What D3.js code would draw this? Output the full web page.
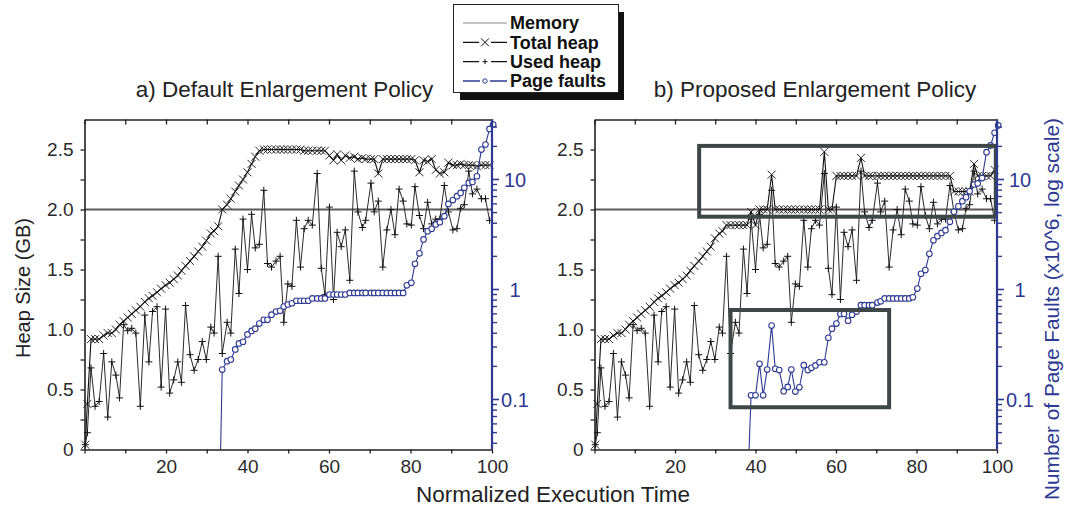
<!DOCTYPE html>
<html><head><meta charset="utf-8">
<script src="https://cdn.jsdelivr.net/npm/d3@7"></script>
<style>body{margin:0;background:#fff}svg{display:block}text{font-family:"Liberation Sans",Arial,sans-serif}</style>
</head><body><svg id="c" width="1065" height="507"></svg>
<script>
// ---------- data ----------
const timeSamples = [0.2,0.7,1.6,2.6,3.6,4.7,5.7,6.7,7.7,8.6,
 9.6,10.6,11.6,12.6,13.7,14.8,15.8,16.7,17.8,18.8,
 19.9,20.9,21.9,22.9,23.8,24.8,25.9,26.9,27.9,28.9,
 29.9,31.0,31.8,32.8,33.8,35.0,35.9,37.0,37.9,38.9,
 40.0,41.0,41.9,42.9,44.0,44.9,45.9,47.0,48.0,48.9,
 49.9,50.9,52.0,53.0,53.9,54.9,55.9,57.1,58.1,59.0,
 60.1,61.1,62.0,63.0,64.0,65.1,66.2,67.1,68.2,69.0,
 70.3,71.1,72.1,73.2,74.2,75.2,76.2,77.2,78.2,79.1,
 80.2,81.1,82.2,83.2,84.2,85.2,86.2,87.2,88.3,89.3,
 90.4,91.4,92.3,93.2,94.3,95.2,96.3,97.4,98.4,99.4,100.3];

const usedHeap = [0.04,0.14,0.68,0.36,0.40,0.80,0.27,0.73,0.62,0.43,
 1.04,0.99,1.01,0.97,0.36,1.12,0.73,1.15,1.19,0.52,
 1.17,0.47,0.58,0.73,0.56,1.20,0.79,0.66,0.75,0.90,
 0.75,1.02,0.97,1.61,0.80,1.06,0.97,1.67,1.30,1.92,
 1.50,1.96,1.68,1.71,2.16,1.55,1.52,1.57,1.61,1.06,
 1.38,1.36,1.91,1.52,1.84,1.91,1.87,2.30,1.51,1.29,
 2.02,1.25,1.81,1.69,1.83,1.41,2.32,1.98,1.85,1.91,
 2.22,1.98,2.07,1.52,1.83,2.00,1.79,2.17,2.07,1.88,
 1.87,2.19,1.95,1.84,2.06,1.88,1.92,1.92,2.20,1.98,
 1.83,1.84,2.01,2.04,2.32,2.13,2.17,2.09,2.09,1.91];

const totalHeapA = [0.04,0.38,0.92,0.92,0.92,0.95,0.97,0.97,1.00,1.04,
 1.07,1.10,1.13,1.16,1.19,1.23,1.26,1.28,1.31,1.34,
 1.37,1.39,1.42,1.45,1.49,1.53,1.57,1.61,1.65,1.69,
 1.74,1.80,1.82,1.86,2.00,2.04,2.09,2.15,2.20,2.25,
 2.31,2.38,2.44,2.49,2.50,2.50,2.50,2.50,2.50,2.50,
 2.50,2.50,2.50,2.50,2.49,2.49,2.49,2.49,2.49,2.49,
 2.45,2.41,2.46,2.41,2.45,2.43,2.44,2.42,2.43,2.42,
 2.42,2.42,2.30,2.42,2.42,2.42,2.42,2.42,2.42,2.42,
 2.42,2.41,2.31,2.41,2.40,2.42,2.33,2.30,2.31,2.39,
 2.37,2.37,2.38,2.37,2.37,2.37,2.36,2.37,2.37,2.37];

const totalHeapB = [0.04,0.38,0.92,0.92,0.92,0.95,0.97,0.97,1.00,1.04,
 1.07,1.10,1.13,1.16,1.19,1.23,1.26,1.28,1.31,1.34,
 1.37,1.39,1.42,1.45,1.49,1.53,1.57,1.61,1.65,1.69,
 1.76,1.80,1.82,1.87,1.87,1.87,1.87,1.87,1.87,1.98,
 1.87,2.00,2.00,2.00,2.29,2.00,2.00,2.00,2.00,2.00,
 2.00,2.00,2.00,2.00,2.00,2.00,2.00,2.48,2.00,2.00,
 2.28,2.28,2.28,2.28,2.28,2.28,2.43,2.28,2.28,2.28,
 2.28,2.28,2.28,2.28,2.28,2.28,2.28,2.28,2.28,2.28,
 2.28,2.28,2.28,2.28,2.28,2.28,2.28,2.28,2.28,2.15,
 2.15,2.15,2.15,2.15,2.38,2.28,2.28,2.28,2.28,2.33];

const memoryLimit = 2.0;

const faultStartA = 34, faultZeroTimeA = 33.4;
const pageFaultsA = [0.187,0.223,0.231,0.285,0.323,0.335,0.39,0.42,0.44,0.49,
 0.53,0.53,0.59,0.63,0.64,0.70,0.73,0.75,0.79,0.79,
 0.79,0.79,0.83,0.83,0.83,0.83,0.90,0.90,0.90,0.90,
 0.90,0.93,0.93,0.93,0.93,0.93,0.93,0.93,0.93,0.93,
 0.93,0.93,0.93,0.93,0.93,1.09,1.15,1.71,2.13,2.85,
 3.39,3.56,3.9,4.09,4.64,6.0,6.5,7.05,7.55,8.4,
 9.3,9.5,10.7,18.7,20.8,28.8,31.6];

const faultStartB = 39, faultZeroTimeB = 38.4;
const pageFaultsB = [0.109,0.109,0.211,0.109,0.187,0.47,0.19,0.185,0.119,0.13,
 0.187,0.118,0.129,0.205,0.185,0.194,0.204,0.218,0.218,0.364,
 0.44,0.49,0.60,0.60,0.52,0.59,0.63,0.72,0.72,0.72,
 0.72,0.76,0.78,0.83,0.83,0.83,0.83,0.83,0.83,0.83,
 0.85,1.02,1.39,1.50,2.11,2.8,3.05,3.27,3.46,4.12,
 5.08,5.7,6.35,6.9,7.8,9.0,9.2,10.3,17.7,20.4,
 26.6,31.0];

const xTicks = [0,10,20,30,40,50,60,70,80,90,100];
const xTickLabels = ["","","20","","40","","60","","80","","100"];
const heapTicks = [0,0.25,0.5,0.75,1.0,1.25,1.5,1.75,2.0,2.25,2.5];
const heapTickLabels = ["0","","0.5","","1.0","","1.5","","2.0","","2.5"];
const faultMajor = [0.1,1,10];
const faultMajorLabels = ["0.1","1","10"];
const faultMinor = [0.04,0.05,0.06,0.07,0.08,0.09,0.2,0.3,0.4,0.5,0.6,0.7,0.8,0.9,2,3,4,5,6,7,8,9,20,30];

const panelTitles = ["a) Default Enlargement Policy","b) Proposed Enlargement Policy"];
const legendLabels = ["Memory","Total heap","Used heap","Page faults"];
const highlightBoxes = [
  {t0:26.0,t1:99.7,scale:"heap",v0:1.94,v1:2.53},
  {t0:33.8,t1:73.2,scale:"fault",v0:0.085,v1:0.651}
];

// ---------- drawing ----------
const svg = d3.select("#c");
const INK = "#231f20", BLUE = "#2e3a92", GREY = "#5a5a5a";
const yTop = 119.5, yBot = 449.5;
const heapY = d3.scaleLinear().domain([0,2.75]).range([yBot,yTop]);
const faultY = d3.scaleLog().domain([0.0351,35.1]).range([yBot,yTop]);

const crossPath = "M-4,-4L4,4M-4,4L4,-4";
const plusPath = "M-3.5,0L3.5,0M0,-3.5L0,3.5";

function drawPanel(idx, x0, x1, totalHeap, faults, fStart, fZero, boxes, titleX){
  const x = d3.scaleLinear().domain([0,100]).range([x0,x1]);
  const g = svg.append("g");

  g.append("line").attr("x1",x(0)).attr("x2",x(100))
    .attr("y1",heapY(memoryLimit)).attr("y2",heapY(memoryLimit))
    .attr("stroke",GREY).attr("stroke-width",1.8);

  const tot = totalHeap.map((v,i)=>[timeSamples[i],v]);
  g.append("path").datum(tot)
    .attr("d",d3.line().x(d=>x(d[0])).y(d=>heapY(d[1])))
    .attr("fill","none").attr("stroke","#111").attr("stroke-width",1.1);
  g.selectAll(".tm").data(tot).join("path")
    .attr("transform",d=>`translate(${x(d[0])},${heapY(d[1])})`)
    .attr("d",crossPath).attr("stroke","#111").attr("stroke-width",0.9).attr("fill","none");

  const used = usedHeap.map((v,i)=>[timeSamples[i],v]);
  g.append("path").datum(used)
    .attr("d",d3.line().x(d=>x(d[0])).y(d=>heapY(d[1])))
    .attr("fill","none").attr("stroke","#2a2a2a").attr("stroke-width",1);
  g.selectAll(".um").data(used).join("path")
    .attr("transform",d=>`translate(${x(d[0])},${heapY(d[1])})`)
    .attr("d",plusPath).attr("stroke","#111").attr("stroke-width",1).attr("fill","none");

  const pf = [[fZero,0]].concat(faults.map((v,i)=>[timeSamples[fStart+i],v]));
  const fy = v => v>0 ? faultY(v) : yBot;
  g.append("path").datum(pf)
    .attr("d",d3.line().x(d=>x(d[0])).y(d=>fy(d[1])))
    .attr("fill","none").attr("stroke",BLUE).attr("stroke-width",1.1);
  g.selectAll(".pm").data(pf.slice(1)).join("circle")
    .attr("cx",d=>x(d[0])).attr("cy",d=>fy(d[1])).attr("r",2.8)
    .attr("fill","#fff").attr("stroke",BLUE).attr("stroke-width",1.1);

  boxes.forEach(b=>{
    const s = b.scale==="heap" ? heapY : faultY;
    g.append("rect").attr("x",x(b.t0)).attr("y",s(b.v1))
      .attr("width",x(b.t1)-x(b.t0)).attr("height",s(b.v0)-s(b.v1))
      .attr("fill","none").attr("stroke","#3d4747").attr("stroke-width",4);
  });

  const ax = svg.append("g");
  ax.append("g").attr("transform",`translate(0,${yBot})`)
    .call(d3.axisBottom(x).tickValues(xTicks).tickSize(4).tickSizeOuter(0).tickPadding(6)
      .tickFormat((d,i)=>xTickLabels[i]));
  ax.append("g").attr("transform",`translate(0,${yTop})`)
    .call(d3.axisTop(x).tickValues(xTicks).tickSize(-5).tickSizeOuter(0).tickFormat(""));
  ax.append("g").attr("transform",`translate(${x0},0)`)
    .call(d3.axisLeft(heapY).tickValues(heapTicks).tickSize(4).tickSizeOuter(0).tickPadding(7)
      .tickFormat((d,i)=>heapTickLabels[i]));
  ax.selectAll("path.domain").attr("stroke",INK).attr("stroke-width",1.6);
  ax.selectAll(".tick line").attr("stroke",INK).attr("stroke-width",1.3);
  ax.selectAll("text").attr("fill","#2b2b2b").attr("font-family",'"Liberation Sans",Arial,sans-serif').attr("font-size",19);

  const rg = svg.append("g").attr("transform",`translate(${x1},0)`);
  rg.append("line").attr("x1",0).attr("x2",0).attr("y1",yTop).attr("y2",yBot)
    .attr("stroke",BLUE).attr("stroke-width",2.2);
  rg.selectAll(".mn").data(faultMinor).join("line")
    .attr("x1",0).attr("x2",5).attr("y1",d=>faultY(d)).attr("y2",d=>faultY(d))
    .attr("stroke",BLUE).attr("stroke-width",1.4);
  rg.selectAll(".mj").data(faultMajor).join("line")
    .attr("x1",0).attr("x2",7).attr("y1",d=>faultY(d)).attr("y2",d=>faultY(d))
    .attr("stroke",BLUE).attr("stroke-width",1.6);
  rg.selectAll(".ml").data(faultMajor).join("text")
    .attr("x",23).attr("y",d=>faultY(d)).attr("dy","0.36em").attr("text-anchor","middle")
    .attr("fill",BLUE).attr("font-size",20).text((d,i)=>faultMajorLabels[i]);

  svg.append("text").attr("x",titleX).attr("y",97).attr("text-anchor","middle")
    .attr("font-size",22.5).attr("fill","#222").text(panelTitles[idx]);
}

drawPanel(0, 84.5, 492, totalHeapA, pageFaultsA, faultStartA, faultZeroTimeA, [], 284.5);
drawPanel(1, 594.5, 997, totalHeapB, pageFaultsB, faultStartB, faultZeroTimeB, highlightBoxes, 815);

svg.append("text").attr("transform","translate(30,288) rotate(-90)").attr("text-anchor","middle")
  .attr("font-size",20).attr("fill","#222").text("Heap Size (GB)");
svg.append("text").attr("x",553).attr("y",502).attr("text-anchor","middle")
  .attr("font-size",22.5).attr("fill","#222").text("Normalized Execution Time");
svg.append("text").attr("transform","translate(1059,309) rotate(-90)").attr("text-anchor","middle")
  .attr("font-size",20.8).attr("fill",BLUE).text("Number of Page Faults (x10^6, log scale)");

const lg = svg.append("g");
lg.append("rect").attr("x",460).attr("y",12).attr("width",164).attr("height",88).attr("fill","#111");
lg.append("rect").attr("x",453.5).attr("y",4.5).attr("width",165).attr("height",88)
  .attr("fill","#fff").attr("stroke","#222").attr("stroke-width",1);
const rowY = d3.scalePoint().domain(legendLabels).range([23,81]);
legendLabels.forEach((lab,i)=>{
  const y = rowY(lab);
  const col = i===0 ? "#8a8a8a" : (i===3 ? BLUE : "#111");
  lg.append("line").attr("x1",463).attr("x2",507).attr("y1",y).attr("y2",y)
    .attr("stroke",col).attr("stroke-width",i===0?1.2:1.3);
  if(i===1||i===2){
    lg.append("rect").attr("x",479).attr("y",y-5).attr("width",12).attr("height",10).attr("fill","#fff");
    lg.append("path").attr("transform",`translate(485,${y})`)
      .attr("d", i===1 ? crossPath : "M-2.5,0L2.5,0M0,-2.5L0,2.5")
      .attr("stroke","#111").attr("stroke-width",1).attr("fill","none");
  }
  if(i===3){
    lg.append("rect").attr("x",480).attr("y",y-4).attr("width",10).attr("height",8).attr("fill","#fff");
    lg.append("circle").attr("cx",485).attr("cy",y).attr("r",2.2).attr("fill","#fff")
      .attr("stroke",BLUE).attr("stroke-width",1);
  }
  lg.append("text").attr("x",510).attr("y",y).attr("dy","0.35em")
    .attr("font-size",18).attr("font-weight","bold").attr("fill","#111").text(lab);
});
</script></body></html>
